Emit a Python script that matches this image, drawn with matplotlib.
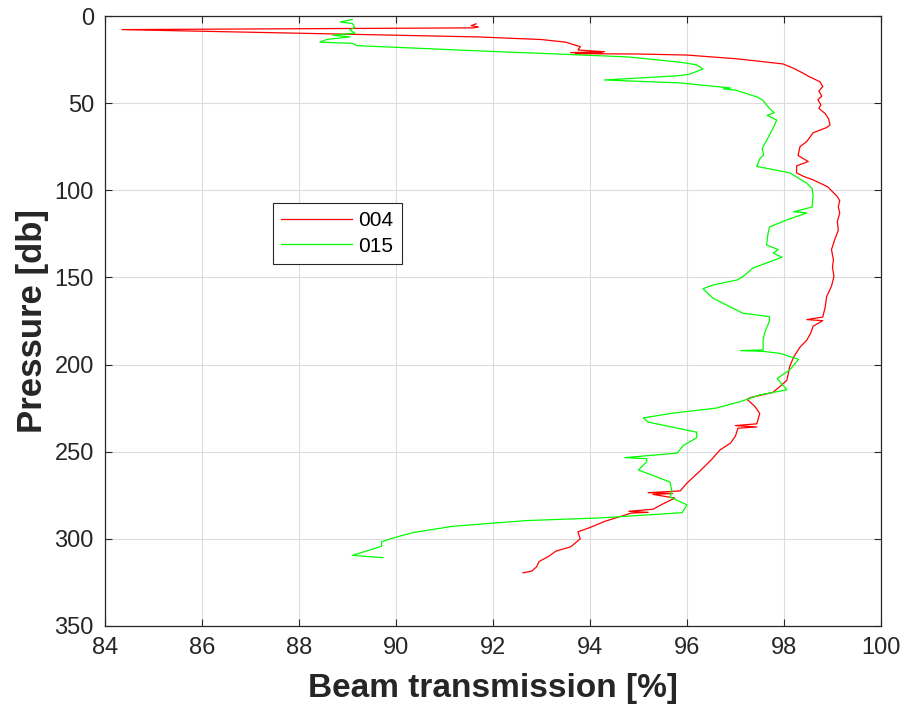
import matplotlib
matplotlib.use('Agg')
import matplotlib.pyplot as plt

# profile 004 (beam transmission %, pressure db)
trans004 = [91.65, 91.55, 91.7, 91.6, 84.35, 89.1, 91.7, 93.0, 93.5, 93.8, 93.75,
            94.3, 93.6, 94.25, 93.7, 95.0, 96.0, 97.0, 97.44, 97.98, 98.2, 98.4,
            98.5, 98.74, 98.8, 98.72, 98.78, 98.7, 98.76, 98.72, 98.85, 98.92,
            98.95, 98.88, 98.6, 98.47, 98.33, 98.29, 98.5, 98.26, 98.26, 98.4,
            98.6, 98.9, 99.1, 99.15, 99.12, 99.15, 99.1, 99.12, 99.05, 98.98,
            99.02, 99.0, 99.03, 98.98, 98.88, 98.85, 98.8, 98.47, 98.8, 98.6,
            98.55, 98.47, 98.33, 98.2, 98.12, 98.06, 97.9, 97.77, 97.3, 97.24,
            97.4, 97.5, 97.44, 97.0, 97.44, 97.05, 97.0, 96.9, 96.68, 96.5,
            96.27, 96.0, 95.86, 95.2, 95.7, 95.3, 95.75, 95.5, 95.3, 94.8, 95.2,
            94.85, 94.6, 94.3, 94.0, 93.75, 93.8, 93.6, 93.3, 93.15, 92.95, 92.9,
            92.8, 92.62]
pres004 = [4.5, 5.5, 6.3, 6.8, 7.8, 10.5, 12.0, 13.5, 15.0, 17.6, 19.5,
           20.5, 21.0, 21.3, 21.6, 21.8, 22.4, 24.5, 25.8, 27.5, 30.0, 32.9,
           34.5, 37.7, 40.5, 43.0, 46.0, 48.0, 51.0, 53.0, 56.0, 59.0,
           62.5, 64.0, 67.0, 72.0, 75.0, 80.0, 83.5, 86.0, 90.0, 92.0,
           94.0, 98.0, 103.6, 106.0, 109.5, 113.0, 118.0, 123.0, 128.0, 134.0,
           140.0, 144.0, 149.5, 155.0, 161.0, 167.0, 172.7, 174.2, 174.8, 178.0,
           182.0, 186.0, 190.0, 195.6, 201.0, 209.0, 213.0, 216.0, 219.0, 220.0,
           224.0, 228.0, 234.0, 235.0, 235.8, 236.5, 241.0, 245.0, 249.0, 254.7,
           261.0, 268.0, 272.5, 273.5, 274.0, 274.5, 276.6, 280.0, 283.0, 284.2, 284.8,
           285.2, 287.4, 290.0, 293.5, 296.0, 300.0, 304.6, 307.0, 310.0, 313.0, 316.0,
           318.5, 319.5]

# profile 015
trans015 = [89.1, 88.85, 89.1, 89.15, 89.05, 89.15, 88.7, 89.05, 88.58, 88.43,
            89.1, 89.2, 91.7, 93.5, 94.8, 95.86, 96.2, 96.33, 96.06, 95.86, 94.3,
            95.86, 96.9, 96.75, 97.0, 97.44, 97.55, 97.7, 97.8, 97.65, 97.85,
            97.8, 97.65, 97.55, 97.58, 97.5, 97.44, 98.12, 98.47, 98.58, 98.6,
            98.58, 98.2, 98.47, 98.06, 97.7, 97.67, 97.64, 97.88, 97.78, 97.96,
            97.36, 97.15, 97.03, 96.54, 96.33, 96.54, 96.9, 97.15, 97.7, 97.7,
            97.6, 97.57, 97.57, 97.1, 97.57, 97.92, 98.3, 98.12, 97.86, 98.06,
            97.5, 97.13, 96.6, 95.7, 95.1, 95.2, 96.2, 96.2, 95.92, 95.8, 94.72,
            95.17, 95.17, 95.0, 95.65, 95.69, 95.65, 96.0, 95.9, 94.2, 92.7, 92.0,
            91.17, 90.35, 89.94, 89.7, 89.7, 89.1, 89.73]
pres015 = [2.0, 3.4, 4.3, 6.5, 8.0, 9.8, 11.0, 12.0, 13.4, 15.0,
           15.7, 17.0, 20.0, 22.0, 23.5, 26.5, 28.0, 30.4, 33.3, 34.2, 36.7,
           38.4, 41.3, 41.8, 42.5, 46.4, 48.0, 53.0, 55.5, 57.0, 59.7,
           63.0, 71.0, 76.0, 79.7, 82.0, 86.3, 90.0, 96.0, 99.0, 103.0,
           109.6, 112.3, 113.0, 117.0, 121.0, 125.0, 131.4, 134.0, 136.0, 138.4,
           144.6, 149.6, 151.5, 154.3, 156.5, 162.0, 167.0, 170.5, 172.5, 175.0,
           182.0, 186.0, 191.6, 192.0, 192.4, 193.6, 197.0, 203.0, 208.0, 214.5,
           217.4, 221.0, 225.0, 227.9, 230.6, 233.0, 238.8, 242.0, 246.5, 250.8, 253.4,
           254.0, 255.7, 260.5, 267.4, 273.0, 276.0, 280.5, 285.0, 288.0, 289.5, 291.0,
           292.8, 296.4, 299.5, 301.7, 304.3, 309.5, 310.8]

xticks = [84, 86, 88, 90, 92, 94, 96, 98, 100]
yticks = [0, 50, 100, 150, 200, 250, 300, 350]

plt.rcParams['font.family'] = ['Liberation Sans', 'DejaVu Sans']

fig = plt.figure(figsize=(9.07, 7.15), dpi=100)
ax = fig.add_axes([0.1158, 0.1245, 0.8555, 0.8531])

ax.plot(trans004, pres004, color='#ff0000', lw=0.9, label='004')
ax.plot(trans015, pres015, color='#00ff00', lw=0.9, label='015')

ax.set_xlim(84, 100)
ax.set_ylim(350, 0)
ax.set_xticks(xticks)
ax.set_yticks(yticks)
ax.grid(True, color='#dcdcdc', lw=0.8)
ax.set_axisbelow(True)
for s in ax.spines.values():
    s.set_color('#262626')
    s.set_linewidth(0.9)
ax.tick_params(direction='in', length=5, top=True, right=True, colors='#262626',
               labelsize=17, pad=8)

ax.set_xlabel('Beam transmission [%]', fontsize=24, fontweight='bold', color='#262626', labelpad=10)
ax.set_ylabel('Pressure [db]', fontsize=25, fontweight='bold', color='#262626', labelpad=4)

leg = ax.legend(loc='upper left', bbox_to_anchor=(0.2165, 0.6934), fontsize=15,
                fancybox=False, framealpha=1, edgecolor='#262626', borderaxespad=0,
                handlelength=3.4, handletextpad=0.3, labelspacing=0.3)
leg.get_frame().set_linewidth(0.8)

fig.savefig('out.png', dpi=100)
